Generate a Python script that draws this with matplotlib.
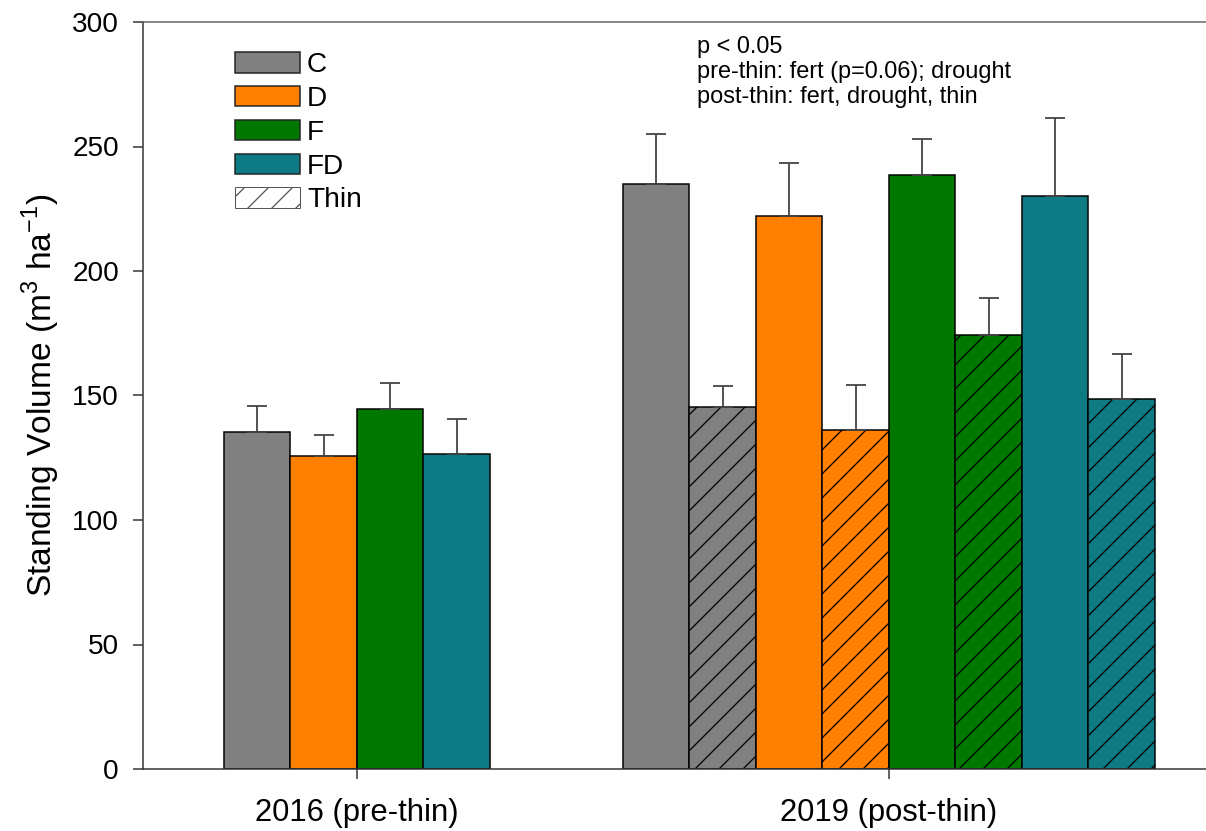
import matplotlib
matplotlib.use('Agg')
import matplotlib.pyplot as plt
from matplotlib.patches import Patch
import numpy as np

plt.rcParams['font.family'] = ['Liberation Sans', 'DejaVu Sans']
plt.rcParams['mathtext.fontset'] = 'custom'
plt.rcParams['mathtext.rm'] = 'Liberation Sans'
plt.rcParams['hatch.linewidth'] = 1.3

# data
treatments = ['C', 'D', 'F', 'FD']
colors = ['#808080', '#ff8000', '#007800', '#0e7a84']
groups = ['2016 (pre-thin)', '2019 (post-thin)']

pre_mean = [135.2, 125.8, 144.4, 126.6]
pre_se = [10.4, 8.4, 10.8, 13.8]

post_mean = [235.0, 222.1, 238.6, 230.2]
post_se = [20.2, 21.1, 14.4, 31.2]

thin_mean = [145.5, 136.3, 174.3, 148.5]
thin_se = [8.4, 17.8, 15.0, 18.2]

annot = "p < 0.05\npre-thin: fert (p=0.06); drought\npost-thin: fert, drought, thin"

# dpi 72 -> 1 pt == 1 px
fig = plt.figure(figsize=(1206 / 72, 831 / 72), dpi=72)
ax = fig.add_axes([143 / 1206, 1 - 769 / 831, 1063 / 1206, 747 / 831])

w = 1.0
centers = [0, 8]
ecol = '#444444'
ekw = dict(ecolor=ecol, elinewidth=1.8, capsize=10, capthick=1.8)

# 2016 group
x1 = centers[0] + (np.arange(4) - 1.5) * w
for i in range(4):
    ax.bar(x1[i], pre_mean[i], w, color=colors[i], edgecolor='black', linewidth=1.5,
           yerr=[[0], [pre_se[i]]], error_kw=ekw, zorder=2)

# 2019 group: unthinned / thinned pairs
x2 = centers[1] + (np.arange(8) - 3.5) * w
for i in range(4):
    ax.bar(x2[2 * i], post_mean[i], w, color=colors[i], edgecolor='black', linewidth=1.5,
           yerr=[[0], [post_se[i]]], error_kw=ekw, zorder=2)
    ax.bar(x2[2 * i + 1], thin_mean[i], w, color=colors[i], edgecolor='black', linewidth=1.5,
           hatch='/', yerr=[[0], [thin_se[i]]], error_kw=ekw, zorder=2)

ax.set_xlim(-3.218, 12.767)
ax.set_ylim(0, 300)
ax.set_yticks(np.arange(0, 301, 50))
ax.set_xticks(centers)
ax.set_xticklabels(groups)

for s in ['left', 'top', 'bottom']:
    ax.spines[s].set_linewidth(1.5)
    ax.spines[s].set_color('#333333')
ax.spines['top'].set_color('#666666')
ax.spines['right'].set_visible(False)

ax.tick_params(axis='y', direction='out', length=10, width=1.5, pad=14, labelsize=28, color='#333333')
ax.tick_params(axis='x', direction='out', length=10, width=1.5, pad=19, labelsize=31, color='#333333')

ax.set_ylabel('Standing Volume (m$^3$ ha$^{-1}$)', fontsize=33.5, labelpad=10)

ax.text((697 - 357) / 66.5, 294.5, annot, fontsize=23.5, va='top', ha='left', linespacing=1.2)

handles = [Patch(facecolor=c, edgecolor='#222222', linewidth=1.5) for c in colors]
handles.append(Patch(facecolor='white', edgecolor='#555555', linewidth=1.0, hatch='/'))
leg = ax.legend(handles, treatments + ['Thin'], loc='upper left',
                bbox_to_anchor=(235 / 1206, 1 - 52 / 831), bbox_transform=fig.transFigure,
                frameon=False, fontsize=28, handlelength=2.32, handleheight=0.75,
                handletextpad=0.25, labelspacing=0.28, borderpad=0, borderaxespad=0)

fig.savefig('out.png', dpi=72)
